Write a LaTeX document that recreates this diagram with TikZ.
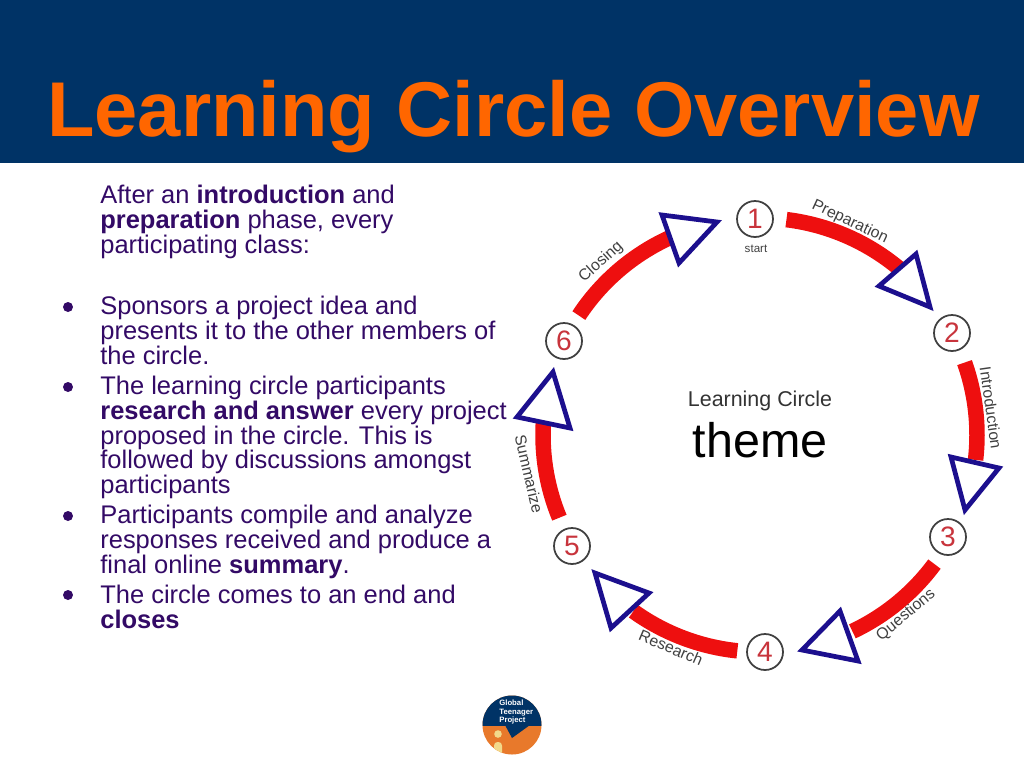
\documentclass[tikz,border=0pt]{standalone}
\usepackage{fontspec}
\setmainfont{Liberation Sans}
\definecolor{navyband}{HTML}{003366}
\definecolor{titleorange}{HTML}{FF6600}
\definecolor{bodyink}{HTML}{330A66}
\definecolor{bandred}{HTML}{EE0F0F}
\definecolor{headblue}{HTML}{1C0F8E}
\definecolor{digitred}{HTML}{C8343C}
\definecolor{logoorange}{HTML}{E8792B}
\definecolor{logoyellow}{HTML}{F2D98A}
\begin{document}
\begin{tikzpicture}
[
x=0.02cm,y=-0.02cm,
Title/.style={font=\fontsize{44.2}{50}\selectfont\bfseries,text=titleorange,inner sep=0pt},
Para/.style={font=\fontsize{14.5}{14.05}\selectfont,text=bodyink,align=left,anchor=north west,inner sep=0pt},
Dot/.style={circle,fill=bodyink,inner sep=0pt,minimum size=0.2cm},
Step/.style={circle,draw=black!75,fill=white,line width=1pt,minimum size=0.72cm,inner sep=0pt,font=\fontsize{16}{16}\selectfont,text=digitred},
Band/.style={draw=bandred,line width=0.31cm},
Head/.style={draw=headblue,fill=white,line width=2.7pt,line join=miter},
Along/.style={font=\fontsize{9}{10}\selectfont,text=black!75,inner sep=0pt},
LogoText/.style={font=\fontsize{4.4}{4.6}\selectfont\bfseries,text=white,align=left,anchor=north west,inner sep=0pt},
]

\useasboundingbox (0,0) rectangle (1024,768);

\fill[navyband] (0,0) rectangle (1024,163);
\node[Title] (title) at (513.5,117) {Learning Circle Overview};

\node[Para] (intro) at (100,185) {After an \textbf{introduction} and\\\textbf{preparation} phase, every\\participating class:};
\node[Para] (itemA) at (100,296) {Sponsors a project idea and\\presents it to the other members of\\the circle.};
\node[Para] (itemB) at (100,376) {The learning circle participants\\\textbf{research and answer} every project\\proposed in the circle. This is\\followed by discussions amongst\\participants};
\node[Para] (itemC) at (100,505) {Participants compile and analyze\\responses received and produce a\\final online \textbf{summary}.};
\node[Para] (itemD) at (100,585) {The circle comes to an end and\\\textbf{closes}};

\node[Dot] (dotA) at (68,307) {};
\node[Dot] (dotB) at (68,387) {};
\node[Dot] (dotC) at (68,516) {};
\node[Dot] (dotD) at (68,595) {};

\coordinate (Hub) at (760,435);

\foreach \a/\b in {-83/-50,-19.5/6.6,36.5/64.8,96/125.7,157.6/184,213.4/245.2}
  \draw[Band] (Hub) ++(\a:217) arc[start angle=\a,end angle=\b,radius=217];

\draw[Head] (662,215)--(717,222)--(679,263)--cycle;
\draw[Head] (916,254)--(930,307)--(879,286)--cycle;
\draw[Head] (951,457)--(999,468)--(965,510)--cycle;
\draw[Head] (840,611)--(858,661)--(802,650)--cycle;
\draw[Head] (595,573)--(649,593)--(611,628)--cycle;
\draw[Head] (553,372)--(570,428)--(517,417)--cycle;

\node[Step] (one) at (755,219) {1};
\node[Step] (two) at (952,333) {2};
\node[Step] (three) at (948,537) {3};
\node[Step] (four) at (765,652) {4};
\node[Step] (five) at (572,546) {5};
\node[Step] (six) at (564,341) {6};

\node[Along,font=\fontsize{6.6}{7}\selectfont] (start) at (756,249) {start};
\node[Along,rotate=-25] (prep) at (850,222) {Preparation};
\node[Along,rotate=-82] (intr) at (991,408) {Introduction};
\node[Along,rotate=40] (ques) at (906,615) {Questions};
\node[Along,rotate=-23] (rese) at (671,648) {Research};
\node[Along,rotate=-77] (summ) at (529,474) {Summarize};
\node[Along,rotate=42] (clos) at (601,262) {Closing};

\node[font=\fontsize{12.2}{14}\selectfont,text=black!80,inner sep=0pt] (lc) at (760,401) {Learning Circle};
\node[font=\fontsize{27.6}{30}\selectfont,text=black,inner sep=0pt] (theme) at (760,440) {theme};

% logo
\fill[logoorange] (512,725) circle (29.5);
\begin{scope}
\clip (512,725) circle (29.5);
\fill[navyband] (480,690) rectangle (545,726);
\fill[navyband] (505,725)--(512,738)--(530,725)--cycle;
\fill[logoyellow,rounded corners=2pt] (494,742) rectangle (502,760);
\end{scope}
\fill[logoyellow] (498,734) circle (3.8);
\node[LogoText] (logotext) at (499,700) {Global\\Teenager\\Project};

\end{tikzpicture}
\end{document}
